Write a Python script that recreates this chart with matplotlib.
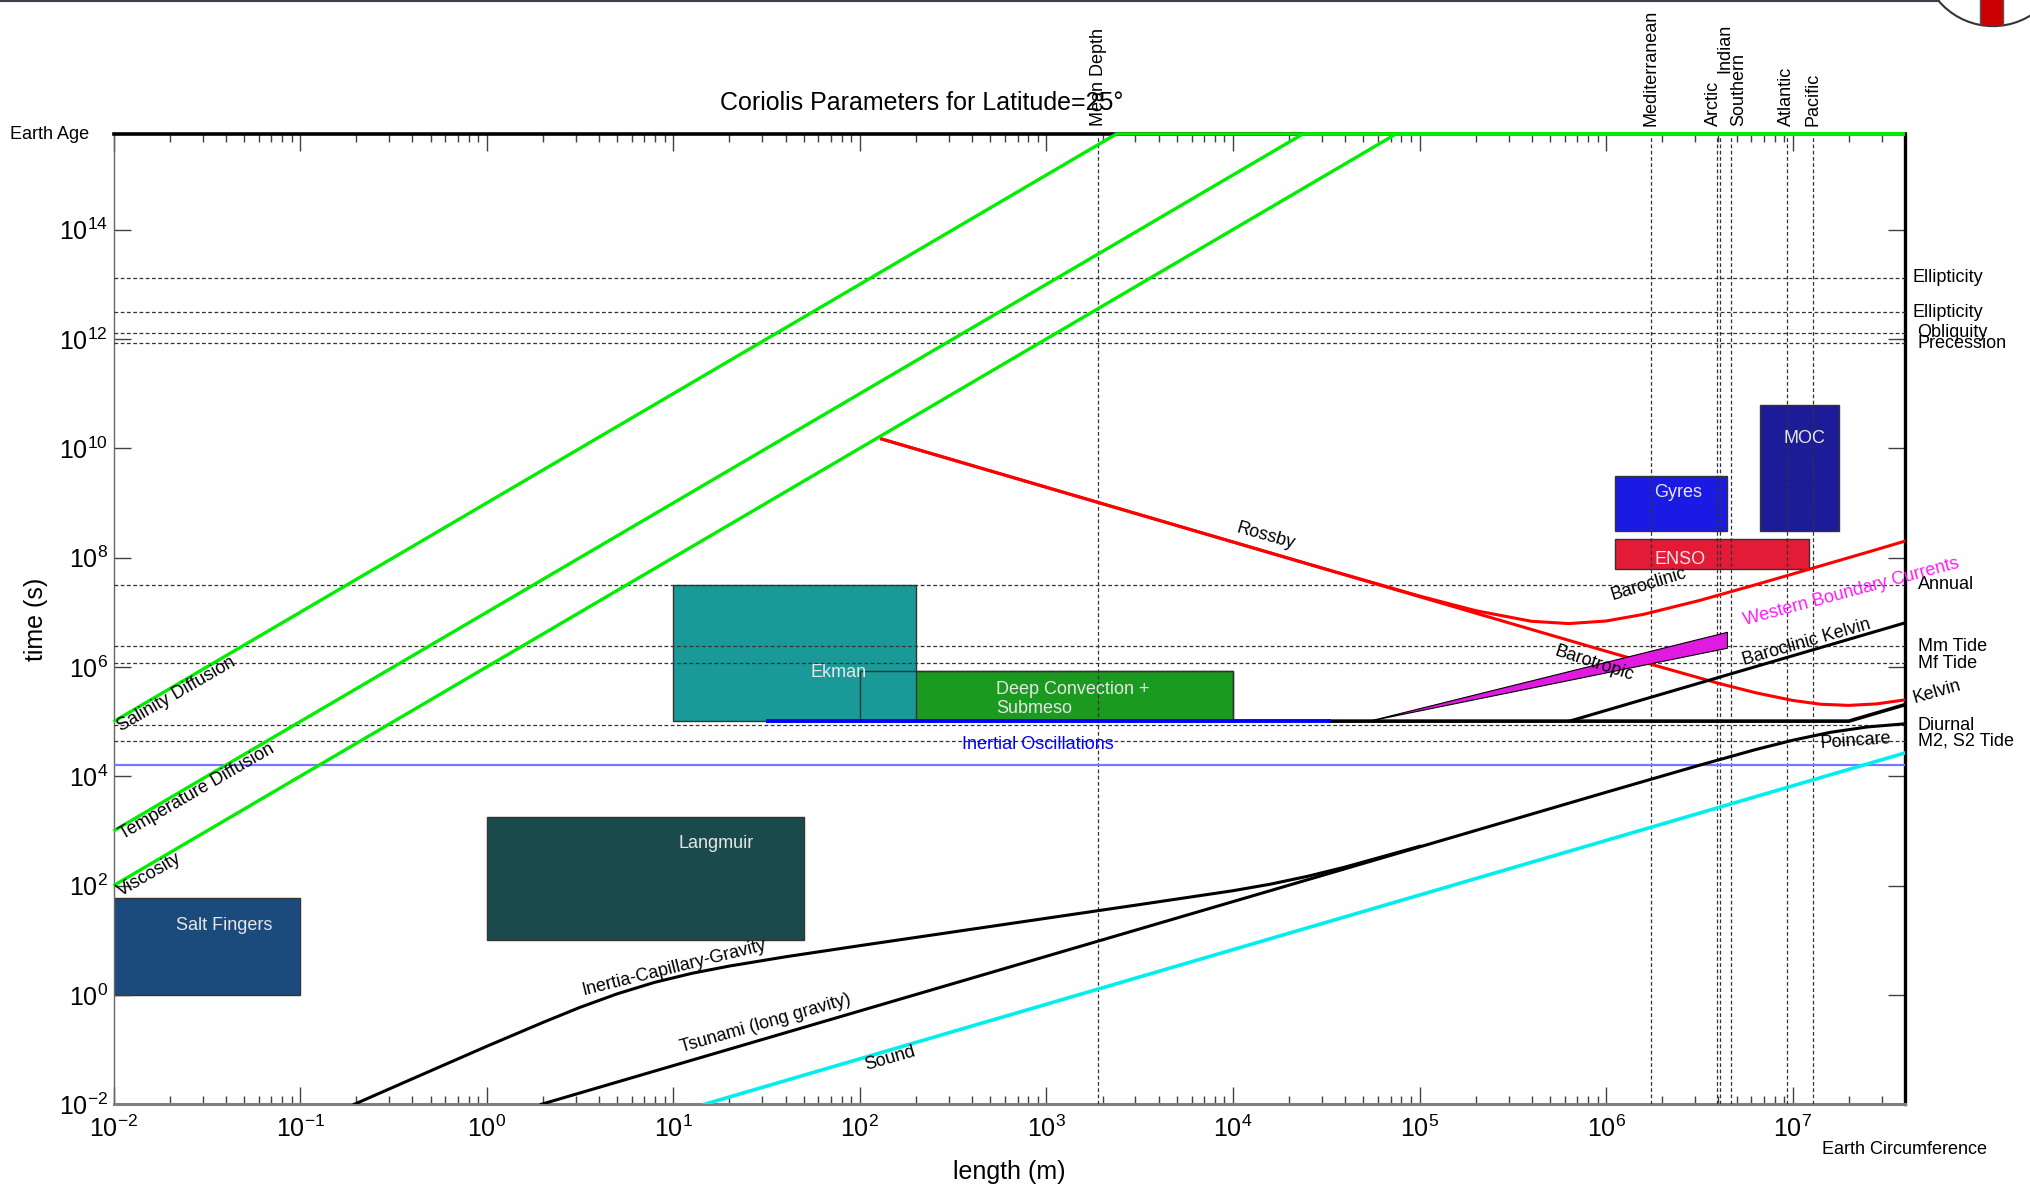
import matplotlib
matplotlib.use('Agg')
import matplotlib.pyplot as plt
from matplotlib.patches import Rectangle, Polygon, Ellipse
from matplotlib.lines import Line2D
from matplotlib.ticker import LogLocator, NullLocator, NullFormatter

plt.rcParams['font.family'] = ['Liberation Sans', 'DejaVu Sans']
plt.rcParams['mathtext.fontset'] = 'custom'
plt.rcParams['mathtext.rm'] = 'Liberation Sans'
plt.rcParams['mathtext.it'] = 'Liberation Sans:italic'
plt.rcParams['mathtext.bf'] = 'Liberation Sans:bold'

# ---------------- data (lengths in m, times in s) ----------------
L_left, L_earth = 1e-2, 4.0e7          # x range, right edge = Earth circumference
T_bottom, T_earth = 1e-2, 5.6e15       # y range, top = Earth age
T_inertial = 1.02e5                    # 2 pi / f at 25 deg
T_inv_f = 1.62e4                       # 1 / f

x_ticks = [1e-2, 1e-1, 1e0, 1e1, 1e2, 1e3, 1e4, 1e5, 1e6, 1e7]
x_tick_labels = [r'$10^{-2}$', r'$10^{-1}$', r'$10^{0}$', r'$10^{1}$', r'$10^{2}$',
                 r'$10^{3}$', r'$10^{4}$', r'$10^{5}$', r'$10^{6}$', r'$10^{7}$']
y_ticks = [1e-2, 1e0, 1e2, 1e4, 1e6, 1e8, 1e10, 1e12, 1e14]
y_tick_labels = [r'$10^{-2}$', r'$10^{0}$', r'$10^{2}$', r'$10^{4}$', r'$10^{6}$',
                 r'$10^{8}$', r'$10^{10}$', r'$10^{12}$', r'$10^{14}$']

# reference periods (right side)
period_names = ['Ellipticity', 'Ellipticity', 'Obliquity', 'Precession', 'Annual',
                'Mm Tide', 'Mf Tide', 'Diurnal', 'M2, S2 Tide']
period_values = [1.31e13, 3.08e12, 1.31e12, 8.35e11, 3.16e7, 2.38e6, 1.18e6, 8.64e4, 4.47e4]

# reference lengths (top)
length_names = ['Mean Depth', 'Mediterranean', 'Arctic', 'Indian', 'Southern', 'Atlantic', 'Pacific']
length_values = [1.9e3, 1.74e6, 3.95e6, 4.1e6, 4.7e6, 9.3e6, 1.28e7]

# phenomena boxes
box_names = ['Salt Fingers', 'Langmuir', 'Ekman', 'Deep Convection +\nSubmeso', 'Gyres', 'ENSO', 'MOC']
box_L0 = [1e-2, 1.0, 10, 100, 1.11e6, 1.11e6, 6.67e6]
box_L1 = [1e-1, 50, 200, 1e4, 4.47e6, 1.22e7, 1.78e7]
box_T0 = [1.0, 10, 1.02e5, 1.02e5, 3.1e8, 6.2e7, 3.1e8]
box_T1 = [59, 1.8e3, 3.16e7, 8.5e5, 3.1e9, 2.17e8, 6.2e10]

# diffusion lines (capped at Earth age)
salt_L = [1e-2, 2.37e3, 4.0e7]
salt_T = [1e5, 5.6e15, 5.6e15]
temp_L = [1e-2, 2.37e4, 4.0e7]
temp_T = [1e3, 5.6e15, 5.6e15]
visc_L = [1e-2, 7.48e4, 4.0e7]
visc_T = [1e2, 5.6e15, 5.6e15]

# Rossby waves
rb_clinic_L = [130.6, 1e3, 1e4, 3.16e4, 1e5, 2.0e5, 3.98e5, 6.31e5, 1e6, 1.58e6, 3.16e6,
               6.31e6, 1.26e7, 2.51e7, 4.0e7]
rb_clinic_T = [1.48e10, 1.93e9, 1.93e8, 6.12e7, 1.98e7, 1.07e7, 6.84e6, 6.21e6, 6.92e6,
               9.13e6, 1.64e7, 3.18e7, 6.30e7, 1.25e8, 2.0e8]
rb_tropic_L = [130.6, 1e4, 1e5, 3.16e5, 1e6, 2.0e6, 3.98e6, 6.31e6, 1e7, 1.41e7, 2.0e7,
               2.82e7, 4.0e7]
rb_tropic_T = [1.48e10, 1.93e8, 1.93e7, 6.10e6, 1.94e6, 9.78e5, 5.05e5, 3.38e5, 2.44e5,
               2.08e5, 1.98e5, 2.11e5, 2.50e5]

# surface / gravity waves
icg_L = [0.195, 0.398, 1.0, 2.0, 3.16, 5.01, 7.94, 12.6, 20.0, 39.8, 100, 316, 1e3,
         3.16e3, 1e4, 1.58e4, 2.51e4, 3.98e4, 1e5]
icg_T = [0.01, 0.0291, 0.115, 0.314, 0.593, 1.05, 1.70, 2.49, 3.38, 4.98, 7.98, 14.2, 25.3,
         45.0, 80.7, 106, 148, 218, 523]
tsu_L = [1.96, 1e6, 3.16e6, 6.31e6, 1e7, 1.58e7, 2.51e7, 4.0e7]
tsu_T = [0.01, 5.10e3, 1.59e4, 3.07e4, 4.56e4, 6.34e4, 7.98e4, 9.12e4]
sound_L = [14.7, 4.0e7]
sound_T = [0.01, 2.67e4]

# Kelvin waves and inertial oscillations
kel_L = [3.29e4, 2.0e7, 4.0e7]
kel_T = [1.02e5, 1.02e5, 2.04e5]
bckel_L = [6.36e5, 4.0e7]
bckel_T = [1.02e5, 6.4e6]
inert_L = [32.3, 3.29e4]
inert_T = [1.02e5, 1.02e5]

# western boundary currents wedge
wbc_L = [5.4e4, 4.47e6, 4.47e6]
wbc_T = [1.02e5, 4.3e6, 2.2e6]

# ---------------- figure ----------------
fig = plt.figure(figsize=(20.3, 11.87), dpi=100)
ax = fig.add_axes([0.05596, 0.06967, 0.88246, 0.81744])
ax.set_xscale('log')
ax.set_yscale('log')
ax.set_xlim(L_left, L_earth)
ax.set_ylim(T_bottom, T_earth)

# boxes
box_colors = ['#1b4b7d', '#1b4a4c', '#1a9999', '#1a9a1f', '#1a1ae4', '#e31b37', '#1c1c99']
box_z = [1, 1, 2, 1, 1, 1, 1]
for name, x0, x1, y0, y1, c, z in zip(box_names, box_L0, box_L1, box_T0, box_T1, box_colors, box_z):
    ax.add_patch(Rectangle((x0, y0), x1 - x0, y1 - y0, facecolor=c, edgecolor='#333333',
                           lw=1.0, zorder=z))
# deep convection outline sits over the Ekman box
i_dc = 3
ax.add_patch(Rectangle((box_L0[i_dc], box_T0[i_dc]), box_L1[i_dc] - box_L0[i_dc],
                       box_T1[i_dc] - box_T0[i_dc], fill=False, edgecolor='#333333', lw=1.0, zorder=2.5))

box_label_pos = [(0.039, 19), (16.9, 578), (76.7, 8.0e5), (537, 2.6e5), (2.43e6, 1.53e9),
                 (2.48e6, 9.1e7), (1.16e7, 1.53e10)]
for name, (lx, ly) in zip(box_names, box_label_pos):
    ha = 'left' if name.startswith('Deep') else 'center'
    ax.text(lx, ly, name, color='#e6e6e6', fontsize=13, ha=ha, va='center', zorder=7,
            linespacing=1.15)

# reference lines
dash = (0, (3, 2))
for v in period_values:
    ax.axhline(v, color='0.2', lw=0.9, ls=dash, zorder=4)
for v in length_values:
    ax.axvline(v, color='0.2', lw=0.9, ls=dash, zorder=4)
ax.axhline(T_inv_f, color='#7878ff', lw=1.6, zorder=4)

# curves
green = '#00ee00'
for Ls, Ts in [(salt_L, salt_T), (temp_L, temp_T), (visc_L, visc_T)]:
    ax.plot(Ls, Ts, color=green, lw=2.4, zorder=6, clip_on=False, solid_capstyle='butt')
ax.plot(rb_clinic_L, rb_clinic_T, color='#ff0000', lw=2.2, zorder=5)
ax.plot(rb_tropic_L, rb_tropic_T, color='#ff0000', lw=2.2, zorder=5)
ax.plot(icg_L, icg_T, color='k', lw=2.2, zorder=5)
ax.plot(tsu_L, tsu_T, color='k', lw=2.2, zorder=5)
ax.plot(sound_L, sound_T, color='#00eeee', lw=2.6, zorder=5)
ax.add_patch(Polygon(list(zip(wbc_L, wbc_T)), closed=True, facecolor='#e01ae0',
                     edgecolor='k', lw=0.8, zorder=5))
ax.plot(kel_L, kel_T, color='k', lw=2.6, zorder=5)
ax.plot(bckel_L, bckel_T, color='k', lw=2.2, zorder=5)
ax.plot(inert_L, inert_T, color='#0000ff', lw=2.8, zorder=5.5)

# curve labels: text, L, T, rotation, color
curve_labels = [
    ('Salinity Diffusion', 0.0217, 3.2e5, 30, 'k'),
    ('Temperature Diffusion', 0.0278, 5.2e3, 30, 'k'),
    ('Viscosity', 0.0156, 157, 30, 'k'),
    ('Rossby', 1.5e4, 2.5e8, -16, 'k'),
    ('Baroclinic', 1.70e6, 3.2e7, 17, 'k'),
    ('Barotropic', 8.6e5, 1.13e6, -18, 'k'),
    ('Baroclinic Kelvin', 1.18e7, 2.83e6, 16, 'k'),
    ('Poincare', 2.17e7, 4.44e4, 4, 'k'),
    ('Western Boundary Currents', 2.06e7, 2.39e7, 15, '#ff1aff'),
    ('Inertia-Capillary-Gravity', 10.1, 3.08, 14, 'k'),
    ('Tsunami (long gravity)', 31.2, 0.303, 16, 'k'),
    ('Sound', 146, 0.0695, 16, 'k'),
    ('Inertial Oscillations', 900, 3.74e4, 0, '#0000ff'),
    ('Kelvin', 5.9e7, 3.54e5, 16, 'k'),
]
for txt, lx, ly, rot, c in curve_labels:
    ax.text(lx, ly, txt, fontsize=13, color=c, rotation=rot, rotation_mode='anchor',
            ha='center', va='center', zorder=7, clip_on=False)

# right-hand period labels
ytr = ax.get_yaxis_transform()
right_off = [0.004, 0.004, 0.007, 0.007, 0.007, 0.007, 0.007, 0.007, 0.007]
for name, v, off in zip(period_names, period_values, right_off):
    ax.text(1.0 + off, v, name, transform=ytr, fontsize=13, ha='left', va='center', clip_on=False)
ax.text(-0.0578, T_earth, 'Earth Age', transform=ytr, fontsize=13, ha='left', va='center',
        clip_on=False)

# top length labels
xtr = ax.get_xaxis_transform()
top_y = [1.008, 1.008, 1.008, 1.063, 1.008, 1.008, 1.008]
top_dx = [1.0, 1.0, 0.955, 1.05, 1.09, 1.0, 1.0]
for name, v, yy, dx in zip(length_names, length_values, top_y, top_dx):
    ax.text(v * dx, yy, name, transform=xtr, rotation=90, fontsize=13, ha='center',
            va='bottom', clip_on=False)
ax.text(L_earth, -0.047, 'Earth Circumference', transform=xtr, fontsize=13, ha='center',
        va='center', clip_on=False)

# axes styling
ax.set_xticks(x_ticks)
ax.set_xticklabels(x_tick_labels)
ax.set_yticks(y_ticks)
ax.set_yticklabels(y_tick_labels)
ax.xaxis.set_minor_locator(LogLocator(base=10, subs=range(2, 10), numticks=100))
ax.xaxis.set_minor_formatter(NullFormatter())
ax.yaxis.set_minor_locator(NullLocator())
ax.tick_params(which='both', direction='in', top=True, right=True, color='0.25', width=1.0)
ax.tick_params(which='major', length=12)
ax.tick_params(which='minor', length=6)
ax.tick_params(axis='x', which='major', labelsize=18, pad=8)
ax.tick_params(axis='y', which='major', labelsize=18, pad=4)

ax.spines['bottom'].set_color('0.5')
ax.spines['bottom'].set_linewidth(2.2)
ax.spines['left'].set_color('0.4')
ax.spines['left'].set_linewidth(1.0)
ax.spines['top'].set_color('k')
ax.spines['top'].set_linewidth(2.6)
ax.spines['right'].set_color('k')
ax.spines['right'].set_linewidth(2.4)

ax.set_xlabel('length (m)', fontsize=18)
ax.xaxis.label.set_verticalalignment('center')
ax.xaxis.set_label_coords(0.5, -0.0694)
ax.set_ylabel('time (s)', fontsize=18)
ax.yaxis.label.set_verticalalignment('center')
ax.yaxis.set_label_coords(-0.0433, 0.5)

fig.text(0.454, 0.9132, 'Coriolis Parameters for Latitude=25\u00b0', fontsize=18,
         ha='center', va='center')

# screenshot frame bits at the very top
fig.add_artist(Line2D([0, 0.955], [0.9993, 0.9993], transform=fig.transFigure,
                      color='#3a3f4a', lw=1.5))
logo = Ellipse((0.9818, 1.038), 0.0702, 0.12, transform=fig.transFigure,
               facecolor='white', edgecolor='#333333', lw=1.5)
fig.add_artist(logo)
stripe = Rectangle((0.9754, 0.978), 0.0113, 0.03, transform=fig.transFigure,
                   facecolor='#cc0000', edgecolor='#555555', lw=1.0)
stripe.set_clip_path(logo)
fig.add_artist(stripe)

fig.savefig('out.png', dpi=100)
